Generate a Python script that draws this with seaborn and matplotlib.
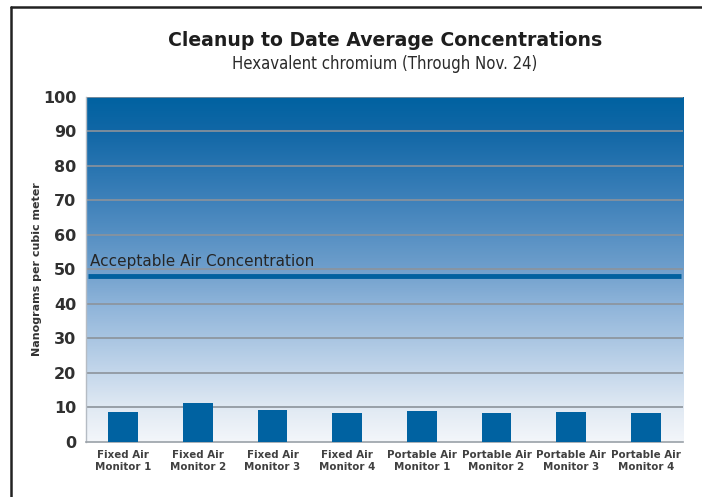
import matplotlib
matplotlib.use("Agg")
import matplotlib.pyplot as plt
import numpy as np
import pandas as pd
import seaborn as sns
from matplotlib.colors import LinearSegmentedColormap

# values
monitors = [
    "Fixed Air\nMonitor 1", "Fixed Air\nMonitor 2", "Fixed Air\nMonitor 3", "Fixed Air\nMonitor 4",
    "Portable Air\nMonitor 1", "Portable Air\nMonitor 2", "Portable Air\nMonitor 3", "Portable Air\nMonitor 4",
]
concentration = [8.7, 11.3, 9.2, 8.5, 9.1, 8.3, 8.8, 8.5]
acceptable = 48
y_ticks = [0, 10, 20, 30, 40, 50, 60, 70, 80, 90, 100]

# background gradient stops (value, colour)
grad_stops = [(0.0, "#f3f6fa"), (0.1, "#e0e9f3"), (0.2, "#c4d7eb"), (0.4, "#8db3d9"),
              (0.5, "#6f9fcc"), (0.7, "#3e81ba"), (0.9, "#1167a6"), (1.0, "#0062a1")]

sns.set_style("white")
plt.rcParams["font.family"] = ["DejaVu Sans"]

df = pd.DataFrame({"monitor": monitors, "value": concentration})

fig = plt.figure(figsize=(7.02, 4.97), dpi=100)
ax = fig.add_axes([0.1225, 0.1107, 0.8505, 0.6943])

cmap = LinearSegmentedColormap.from_list("bg", grad_stops)
grad = np.linspace(0, 1, 256).reshape(-1, 1)
ax.imshow(grad, cmap=cmap, aspect="auto", origin="lower",
          extent=(-0.5, len(monitors) - 0.5, 0, 100), zorder=0)

sns.barplot(data=df, x="monitor", y="value", color="#0062a1", width=0.4,
            saturation=1, linewidth=0, ax=ax, zorder=3)

ax.set_xlim(-0.5, len(monitors) - 0.5)
ax.set_ylim(0, 100)
ax.set_yticks(y_ticks)
for t in y_ticks[1:]:
    ax.axhline(t, color="#8c939b", lw=1.2, zorder=1)

ax.plot([-0.47, len(monitors) - 0.53], [acceptable, acceptable], color="#00609f",
        lw=3.5, solid_capstyle="butt", zorder=2)
ax.text(-0.44, acceptable + 2.2, "Acceptable Air Concentration", fontsize=11,
        color="#262626", va="bottom", ha="left", zorder=4)

for s in ["top", "right"]:
    ax.spines[s].set_visible(False)
ax.spines["left"].set_color("#b5bcc4")
ax.spines["bottom"].set_color("#9aa1a8")
ax.spines["left"].set_linewidth(1)
ax.spines["bottom"].set_linewidth(1.2)

ax.tick_params(axis="y", length=0, pad=7, labelsize=11.5, labelcolor="#303030")
for lab in ax.get_yticklabels():
    lab.set_fontweight("bold")
ax.tick_params(axis="x", length=0, pad=6, labelsize=7.4, labelcolor="#404040")
for lab in ax.get_xticklabels():
    lab.set_fontweight("bold")
ax.set_xticks(np.arange(0.5, len(monitors) - 1, 1), minor=True)
ax.tick_params(axis="x", which="minor", direction="in", length=3, width=1.2, color="#6d747b")

ax.set_xlabel("")
ax.set_ylabel("Nanograms per cubic meter", fontsize=8, fontweight="bold",
              color="#333333", labelpad=1)

fig.text(0.548, 0.918, "Cleanup to Date Average Concentrations", ha="center",
         va="center", fontsize=13.6, fontweight="bold", color="#1e1e1e")
fig.text(0.548, 0.872, "Hexavalent chromium (Through Nov. 24)", ha="center",
         va="center", fontsize=12, color="#2a2a2a",
         family=["Liberation Sans Narrow", "DejaVu Sans"], fontstretch="condensed")

# frame line along top and left edge
fig.add_artist(plt.Line2D([0.016, 1.0], [0.985, 0.985], color="#222222", lw=1.8,
                          transform=fig.transFigure))
fig.add_artist(plt.Line2D([0.016, 0.016], [0.0, 0.985], color="#222222", lw=1.8,
                          transform=fig.transFigure))

fig.savefig("out.png", dpi=100)
